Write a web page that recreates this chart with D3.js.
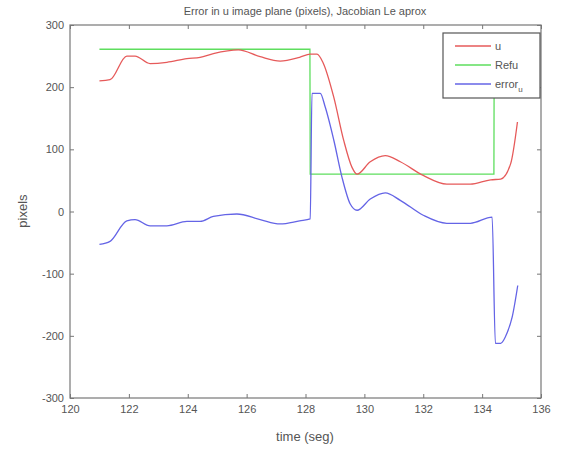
<!DOCTYPE html>
<html>
<head>
<meta charset="utf-8">
<script src="https://cdn.jsdelivr.net/npm/d3@7"></script>
<style>
body{margin:0;background:#fff;}
svg text{font-family:"Liberation Sans",Arial,sans-serif;fill:#555;}
</style>
</head>
<body>
<svg id="chart" width="563" height="451"></svg>
<script>
// ---- data
let uTime=[121.0,121.36,121.93,122.21,122.72,123.29,123.97,124.42,124.87,125.72,126.46,127.14,127.8,128.16,128.39,128.6,128.96,129.3,129.58,129.75,130.2,130.71,131.22,132.0,132.8,133.6,134.29,134.63,134.97,135.2];
let uVals=[210,212,250,250,238,240,246,248,254,260,249,242,248,253,253,239,184,114,71,60,80,90,80,58,44,44,51,52,77,144];

let refTime=[121.0,128.15,128.16,134.4,134.41,135.2];
let refVals=[261,261,60,60,261,261];

let errTime=[121.0,121.36,121.93,122.21,122.72,123.29,123.97,124.42,124.87,125.67,126.46,127.14,127.8,128.16,128.22,128.5,128.67,128.96,129.24,129.52,129.75,130.2,130.71,131.22,132.0,132.8,133.6,134.34,134.45,134.63,134.85,135.02,135.21];
let errVals=[-53,-48,-15,-13,-23,-23,-16,-16,-8,-4,-13,-20,-15,-12,190,190,168,115,55,12,2,20,30,18,-6,-19,-19,-9,-212,-212,-195,-170,-119];

let xTicks=[120,122,124,126,128,130,132,134,136];
let yTicks=[-300,-200,-100,0,100,200,300];
let legendNames=["u","Refu","error"];
let colors=["#e65a5a","#5ede5e","#6464e6"];

// ---- layout
let plotLeft=70,plotRight=541,plotTop=25,plotBottom=398;
let svg=d3.select("#chart");

let x=d3.scaleLinear().domain([120,136]).range([plotLeft,plotRight]);
let y=d3.scaleLinear().domain([-300,300]).range([plotBottom,plotTop]);

// frame
svg.append("rect")
    .attr("x",plotLeft).attr("y",plotTop)
    .attr("width",plotRight-plotLeft).attr("height",plotBottom-plotTop)
    .attr("fill","none").attr("stroke","#777").attr("stroke-width",1.2);

// axes (ticks inward, matlab style), plain hyphen for negatives
let fmt=d=>String(d);
let xAxis=d3.axisBottom(x).tickValues(xTicks).tickSize(-4).tickPadding(7).tickFormat(fmt);
let yAxis=d3.axisLeft(y).tickValues(yTicks).tickSize(-4).tickPadding(6).tickFormat(fmt);

let gx=svg.append("g").attr("transform","translate(0,"+plotBottom+")").call(xAxis);
let gy=svg.append("g").attr("transform","translate("+plotLeft+",0)").call(yAxis);
// mirror ticks on top and right
let gxt=svg.append("g").attr("transform","translate(0,"+plotTop+")").call(d3.axisTop(x).tickValues(xTicks).tickSize(-4).tickFormat(""));
let gyr=svg.append("g").attr("transform","translate("+plotRight+",0)").call(d3.axisRight(y).tickValues(yTicks).tickSize(-4).tickFormat(""));

[gx,gy,gxt,gyr].forEach(g=>{
    g.select(".domain").remove();
    g.selectAll(".tick line").attr("stroke","#777");
    g.selectAll(".tick text").style("font-size","11px").attr("fill","#555");
});

// lines
let line=d3.line().x(d=>x(d[0])).y(d=>y(d[1]));
let smooth=d3.line().x(d=>x(d[0])).y(d=>y(d[1])).curve(d3.curveMonotoneX);

svg.append("path")
    .datum(refTime.map((t,i)=>[t,refVals[i]]))
    .attr("d",line).attr("fill","none").attr("stroke",colors[1]).attr("stroke-width",1.3);
svg.append("path")
    .datum(uTime.map((t,i)=>[t,uVals[i]]))
    .attr("d",smooth).attr("fill","none").attr("stroke",colors[0]).attr("stroke-width",1.3);
svg.append("path")
    .datum(errTime.map((t,i)=>[t,errVals[i]]))
    .attr("d",smooth).attr("fill","none").attr("stroke",colors[2]).attr("stroke-width",1.3);

// title and labels
svg.append("text").attr("x",305).attr("y",15).attr("text-anchor","middle")
    .style("font-size","11px").text("Error in u image plane (pixels), Jacobian Le aprox");
svg.append("text").attr("x",305).attr("y",441).attr("text-anchor","middle")
    .style("font-size","13px").text("time (seg)");
svg.append("text").attr("transform","translate(27,211) rotate(-90)").attr("text-anchor","middle")
    .style("font-size","13px").text("pixels");

// legend
let lg=svg.append("g").attr("transform","translate(443,33)");
lg.append("rect").attr("width",97).attr("height",65)
    .attr("fill","#fff").attr("stroke","#555").attr("stroke-width",1.2);
legendNames.forEach((name,i)=>{
    let yy=13+i*19;
    lg.append("line").attr("x1",12).attr("x2",48).attr("y1",yy).attr("y2",yy)
        .attr("stroke",colors[i]).attr("stroke-width",1.3);
    let t=lg.append("text").attr("x",52).attr("y",yy+4).style("font-size","11px").text(name);
    if(name=="error"){
        t.append("tspan").attr("dy",4).style("font-size","8px").text("u");
    }
});
</script>
</body>
</html>
